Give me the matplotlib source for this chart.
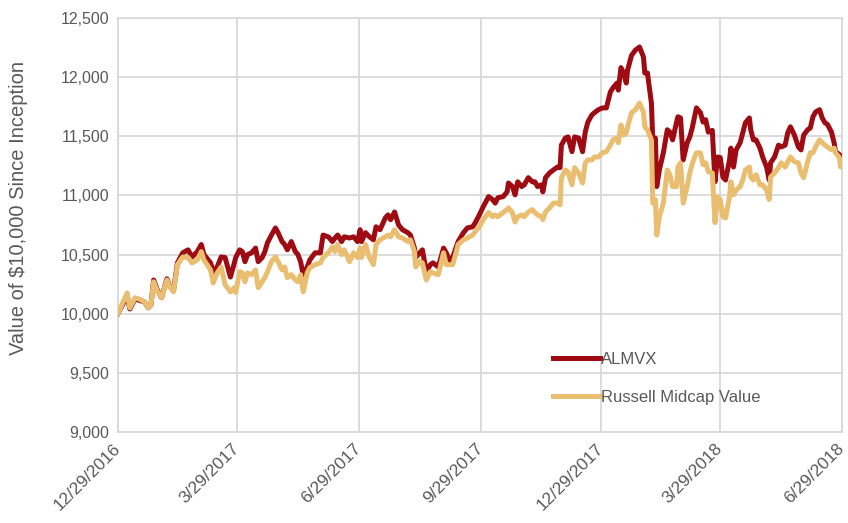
import pandas as pd
import matplotlib
matplotlib.use('Agg')
import matplotlib.pyplot as plt
from matplotlib.ticker import FuncFormatter

# Growth of $10,000
start_date = '2016-12-29'

# calendar days since inception
days = [0, 7, 9, 13, 17, 20, 23, 25, 27, 30, 33, 37, 39, 42, 45, 49, 53, 56, 60, 63,
        65, 70, 72, 75, 78, 81, 85, 88, 89, 92, 94, 96, 98, 101, 104, 106, 109, 111, 113, 116,
        119, 121, 124, 126, 128, 131, 134, 136, 138, 140, 143, 145, 149, 153, 155, 159, 162, 164, 166, 169,
        171, 175, 178, 181, 183, 184, 187, 190, 193, 195, 198, 202, 204, 206, 209, 212, 215, 219, 221, 224,
        225, 228, 230, 233, 236, 238, 242, 246, 248, 251, 253, 257, 261, 264, 268, 270, 273, 276, 280, 283,
        285, 287, 291, 294, 295, 298, 300, 302, 305, 307, 310, 313, 315, 317, 320, 321, 323, 326, 329, 332,
        334, 335, 338, 340, 343, 345, 348, 351, 353, 355, 358, 360, 363, 366, 369, 372, 374, 377, 378, 380,
        382, 384, 385, 388, 391, 393, 394, 397, 398, 400, 403, 404, 406, 407, 409, 412, 415, 417, 419, 422,
        423, 425, 427, 430, 432, 434, 437, 440, 442, 444, 446, 449, 451, 453, 455, 457, 459, 462, 463, 465,
        467, 470, 472, 474, 477, 478, 480, 482, 485, 487, 490, 492, 493, 496, 499, 501, 504, 506, 508, 511,
        514, 516, 518, 521, 523, 525, 527, 530, 532, 534, 536, 539, 541, 542, 545, 546, 547]

almvx = [10000, 10150, 10040, 10125, 10110, 10100, 10050, 10075, 10285, 10195, 10135, 10295, 10235, 10195, 10430, 10515, 10540, 10480, 10525, 10585,
         10500, 10430, 10355, 10395, 10480, 10475, 10310, 10430, 10475, 10540, 10525, 10440, 10500, 10515, 10555, 10440, 10475, 10525, 10600, 10665,
         10725, 10685, 10610, 10585, 10540, 10610, 10525, 10500, 10440, 10330, 10395, 10455, 10515, 10515, 10665, 10650, 10610, 10640, 10665, 10610,
         10650, 10640, 10650, 10610, 10710, 10610, 10685, 10650, 10625, 10735, 10710, 10810, 10835, 10795, 10860, 10750, 10710, 10685, 10665, 10555,
         10475, 10515, 10540, 10355, 10415, 10430, 10395, 10555, 10515, 10440, 10480, 10610, 10685, 10725, 10735, 10770, 10835, 10905, 10990, 10965,
         10935, 10980, 10990, 11030, 11105, 11075, 11005, 11115, 11075, 11090, 11150, 11115, 11115, 11075, 11090, 11030, 11150, 11190, 11215, 11240,
         11235, 11425, 11485, 11495, 11370, 11495, 11485, 11370, 11535, 11620, 11680, 11700, 11725, 11740, 11740, 11875, 11910, 11950, 11890, 12080,
         12035, 11950, 12060, 12185, 12230, 12245, 12255, 12170, 12035, 12035, 11780, 11470, 11485, 11075, 11215, 11360, 11555, 11535, 11470, 11620,
         11665, 11655, 11300, 11445, 11495, 11580, 11740, 11700, 11620, 11640, 11535, 11550, 11115, 11325, 11320, 11155, 11130, 11300, 11400, 11240,
         11385, 11445, 11530, 11615, 11655, 11555, 11470, 11470, 11400, 11325, 11240, 11130, 11275, 11325, 11425, 11410, 11425, 11530, 11580, 11510,
         11410, 11385, 11510, 11555, 11570, 11665, 11705, 11725, 11655, 11615, 11600, 11535, 11445, 11370, 11345, 11300, 11300]

russell_mcv = [10000, 10175, 10050, 10135, 10120, 10100, 10050, 10075, 10270, 10185, 10135, 10285, 10230, 10185, 10415, 10480, 10475, 10430, 10455, 10525,
               10455, 10370, 10260, 10345, 10395, 10245, 10185, 10220, 10180, 10355, 10345, 10270, 10345, 10330, 10370, 10220, 10270, 10305, 10355, 10440,
               10480, 10440, 10370, 10395, 10305, 10330, 10285, 10270, 10330, 10185, 10345, 10390, 10415, 10430, 10475, 10515, 10565, 10525, 10585, 10500,
               10540, 10440, 10515, 10475, 10555, 10475, 10585, 10475, 10415, 10585, 10625, 10650, 10665, 10650, 10710, 10650, 10640, 10610, 10625, 10525,
               10395, 10440, 10430, 10285, 10355, 10345, 10330, 10515, 10415, 10415, 10415, 10585, 10625, 10640, 10665, 10695, 10735, 10795, 10855, 10820,
               10835, 10820, 10855, 10880, 10895, 10855, 10775, 10820, 10835, 10820, 10860, 10880, 10855, 10835, 10820, 10795, 10860, 10895, 10935, 10935,
               10920, 11150, 11215, 11200, 11090, 11235, 11190, 11105, 11275, 11300, 11300, 11325, 11325, 11360, 11370, 11425, 11470, 11485, 11445, 11595,
               11510, 11530, 11580, 11700, 11725, 11765, 11780, 11705, 11580, 11555, 11470, 10935, 10965, 10665, 10820, 10935, 11215, 11175, 11075, 11075,
               11240, 11275, 10935, 11075, 11190, 11275, 11360, 11360, 11260, 11275, 11200, 11190, 10770, 10990, 10965, 10820, 10810, 10990, 11115, 11005,
               11045, 11075, 11130, 11215, 11240, 11155, 11130, 11175, 11090, 11090, 11045, 10965, 11155, 11190, 11235, 11275, 11240, 11285, 11325, 11285,
               11275, 11190, 11150, 11285, 11360, 11360, 11410, 11470, 11445, 11425, 11410, 11385, 11400, 11360, 11320, 11240, 11285]

tick_dates = ['2016-12-29', '2017-03-29', '2017-06-29', '2017-09-29',
              '2017-12-29', '2018-03-29', '2018-06-29']
tick_labels = ['12/29/2016', '3/29/2017', '6/29/2017', '9/29/2017',
               '12/29/2017', '3/29/2018', '6/29/2018']

dates = pd.Timestamp(start_date) + pd.to_timedelta(days, unit='D')

plt.rcParams['font.family'] = ['Liberation Sans', 'DejaVu Sans']

fig = plt.figure(figsize=(8.48, 5.23), dpi=100)
ax = fig.add_axes([0.139, 0.174, 0.854, 0.7916])

ax.plot(dates, almvx, color='#9E0B12', lw=3.6, solid_joinstyle='round', label='ALMVX', zorder=3)
ax.plot(dates, russell_mcv, color='#E9BE70', lw=3.6, solid_joinstyle='round',
        label='Russell Midcap Value', zorder=4)

ax.set_ylim(9000, 12500)
ax.set_yticks(range(9000, 12501, 500))
ax.yaxis.set_major_formatter(FuncFormatter(lambda v, p: f'{int(v):,}'))
ax.set_xlim(pd.Timestamp(tick_dates[0]), pd.Timestamp(tick_dates[-1]))
ax.set_xticks([pd.Timestamp(d) for d in tick_dates])
ax.set_xticklabels(tick_labels, rotation=45, ha='right', va='center', rotation_mode='anchor')

grid_col = '#D9D9D9'
ax.grid(True, color=grid_col, lw=1.3)
ax.set_axisbelow(True)
for s in ax.spines.values():
    s.set_color(grid_col)
    s.set_linewidth(1.3)
ax.tick_params(length=0, colors='#595959', labelsize=11.5, pad=6)
ax.tick_params(axis='x', pad=10, labelsize=12.5)

ax.set_ylabel('Value of $10,000 Since Inception', fontsize=14.5, color='#595959')
ax.yaxis.set_label_coords(-0.124, 0.54)

ax.legend(loc='upper left', bbox_to_anchor=(0.58, 0.23), frameon=False, fontsize=12,
          handlelength=2.8, handletextpad=0.1, labelspacing=1.4, labelcolor='#595959')

fig.savefig('out.png', dpi=100)
